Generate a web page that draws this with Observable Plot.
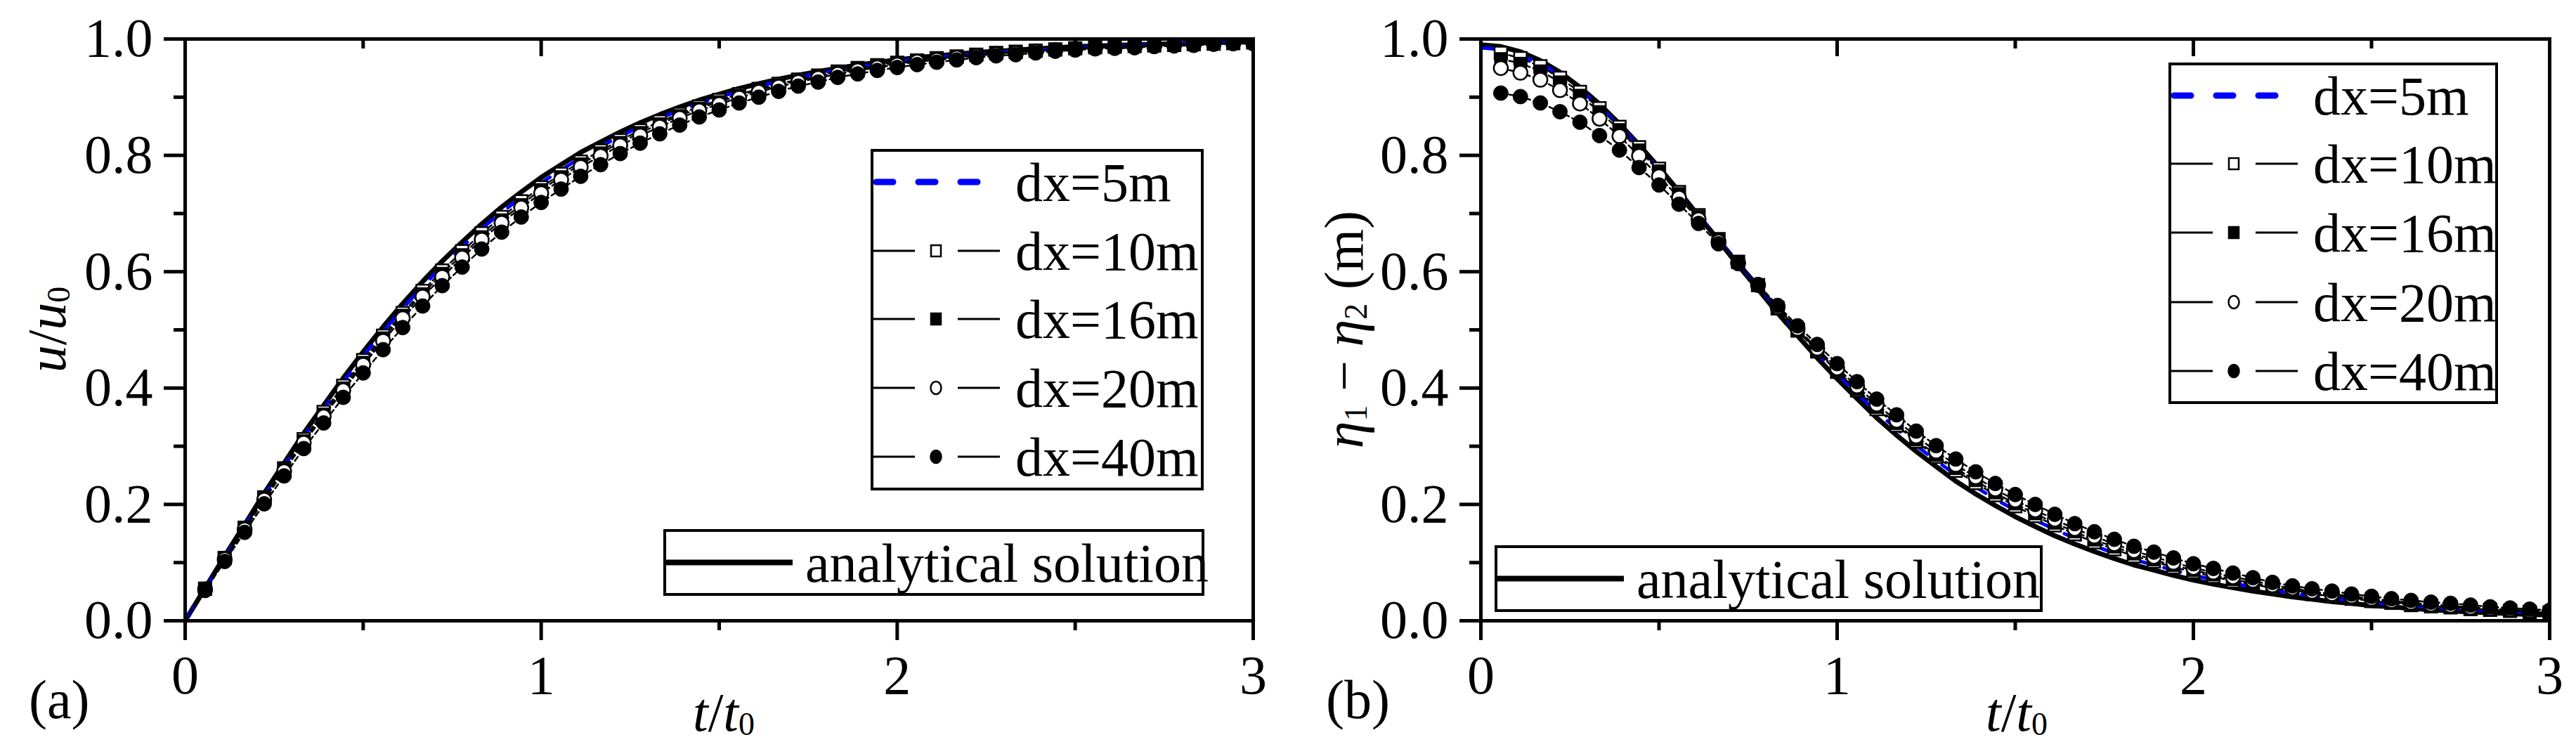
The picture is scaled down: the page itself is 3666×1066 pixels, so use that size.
<!DOCTYPE html>
<html>
<head>
<meta charset="utf-8">
<script src="https://cdn.jsdelivr.net/npm/d3@7"></script>
<script src="https://cdn.jsdelivr.net/npm/@observablehq/plot@0.6"></script>
<style>
  html, body { margin: 0; padding: 0; background: #fff; }
  #wrap { display: flex; width: 3666px; height: 1066px; }
  svg { display: block; }
</style>
</head>
<body>
<div id="wrap"></div>
<script>
// ---------- data ----------
const T = [0, 0.056, 0.111, 0.167, 0.222, 0.278, 0.333, 0.389, 0.444, 0.5, 0.556, 0.611, 0.667, 0.722, 0.778, 0.833, 0.889, 0.944, 1, 1.056, 1.111, 1.167, 1.222, 1.278, 1.333, 1.389, 1.444, 1.5, 1.556, 1.611, 1.667, 1.722, 1.778, 1.833, 1.889, 1.944, 2, 2.056, 2.111, 2.167, 2.222, 2.278, 2.333, 2.389, 2.444, 2.5, 2.556, 2.611, 2.667, 2.722, 2.778, 2.833, 2.889, 2.944, 3];

// panel (a): u/u0
const aAnalytical = [0, 0.056, 0.111, 0.165, 0.219, 0.271, 0.322, 0.370, 0.417, 0.462, 0.505, 0.545, 0.583, 0.618, 0.651, 0.682, 0.711, 0.737, 0.762, 0.784, 0.805, 0.823, 0.840, 0.856, 0.870, 0.883, 0.895, 0.905, 0.915, 0.923, 0.931, 0.938, 0.944, 0.950, 0.955, 0.960, 0.964, 0.968, 0.971, 0.974, 0.977, 0.979, 0.981, 0.983, 0.985, 0.987, 0.988, 0.989, 0.990, 0.991, 0.992, 0.993, 0.994, 0.995, 0.995];
const aDx5 = [0, 0.055, 0.109, 0.162, 0.215, 0.266, 0.316, 0.364, 0.410, 0.455, 0.497, 0.537, 0.574, 0.610, 0.643, 0.674, 0.702, 0.728, 0.753, 0.775, 0.796, 0.815, 0.833, 0.849, 0.864, 0.877, 0.889, 0.900, 0.910, 0.919, 0.927, 0.934, 0.941, 0.947, 0.952, 0.957, 0.961, 0.965, 0.968, 0.972, 0.975, 0.977, 0.979, 0.981, 0.983, 0.985, 0.986, 0.988, 0.989, 0.990, 0.991, 0.992, 0.993, 0.994, 0.994];
const aDx10 = [0, 0.055, 0.108, 0.160, 0.212, 0.262, 0.312, 0.359, 0.404, 0.448, 0.490, 0.529, 0.567, 0.602, 0.635, 0.666, 0.694, 0.721, 0.745, 0.768, 0.789, 0.808, 0.826, 0.843, 0.858, 0.871, 0.884, 0.895, 0.905, 0.914, 0.923, 0.930, 0.937, 0.944, 0.950, 0.955, 0.959, 0.963, 0.967, 0.970, 0.973, 0.976, 0.978, 0.980, 0.982, 0.984, 0.986, 0.987, 0.988, 0.989, 0.990, 0.991, 0.992, 0.993, 0.994];
const aDx16 = [0, 0.054, 0.107, 0.159, 0.210, 0.260, 0.309, 0.355, 0.400, 0.444, 0.486, 0.525, 0.562, 0.597, 0.629, 0.660, 0.689, 0.715, 0.741, 0.763, 0.785, 0.804, 0.822, 0.839, 0.854, 0.868, 0.881, 0.892, 0.903, 0.912, 0.921, 0.928, 0.935, 0.942, 0.948, 0.953, 0.958, 0.962, 0.966, 0.969, 0.973, 0.975, 0.977, 0.980, 0.982, 0.984, 0.985, 0.987, 0.988, 0.989, 0.990, 0.991, 0.993, 0.994, 0.994];
const aDx20 = [0, 0.054, 0.106, 0.157, 0.208, 0.257, 0.306, 0.351, 0.396, 0.440, 0.481, 0.520, 0.557, 0.591, 0.624, 0.655, 0.684, 0.710, 0.735, 0.758, 0.780, 0.799, 0.817, 0.834, 0.849, 0.864, 0.877, 0.888, 0.899, 0.909, 0.918, 0.926, 0.933, 0.940, 0.946, 0.951, 0.956, 0.961, 0.964, 0.968, 0.971, 0.974, 0.976, 0.979, 0.981, 0.983, 0.985, 0.986, 0.987, 0.988, 0.990, 0.991, 0.992, 0.993, 0.993];
const aDx40 = [0, 0.052, 0.102, 0.152, 0.201, 0.249, 0.296, 0.340, 0.384, 0.426, 0.466, 0.504, 0.541, 0.576, 0.608, 0.639, 0.668, 0.694, 0.719, 0.742, 0.764, 0.784, 0.803, 0.821, 0.837, 0.852, 0.866, 0.878, 0.890, 0.900, 0.910, 0.919, 0.926, 0.934, 0.940, 0.946, 0.951, 0.956, 0.960, 0.964, 0.968, 0.971, 0.973, 0.976, 0.979, 0.981, 0.983, 0.984, 0.985, 0.987, 0.988, 0.989, 0.991, 0.992, 0.992];

// panel (b): eta1 - eta2 (m)
const bAnalytical = [0.990, 0.987, 0.978, 0.963, 0.943, 0.917, 0.888, 0.854, 0.818, 0.779, 0.738, 0.696, 0.654, 0.611, 0.570, 0.529, 0.490, 0.452, 0.416, 0.382, 0.349, 0.319, 0.291, 0.265, 0.240, 0.218, 0.198, 0.179, 0.162, 0.146, 0.132, 0.119, 0.107, 0.096, 0.087, 0.078, 0.070, 0.063, 0.057, 0.051, 0.046, 0.041, 0.037, 0.033, 0.030, 0.026, 0.024, 0.021, 0.019, 0.017, 0.015, 0.014, 0.012, 0.011, 0.010];
const bDx5 = [0.985, 0.982, 0.972, 0.958, 0.938, 0.913, 0.884, 0.851, 0.815, 0.777, 0.737, 0.697, 0.656, 0.616, 0.576, 0.536, 0.497, 0.460, 0.424, 0.391, 0.359, 0.330, 0.301, 0.275, 0.251, 0.230, 0.209, 0.190, 0.173, 0.157, 0.142, 0.129, 0.116, 0.105, 0.096, 0.087, 0.078, 0.071, 0.064, 0.058, 0.052, 0.048, 0.042, 0.039, 0.035, 0.032, 0.028, 0.025, 0.023, 0.021, 0.019, 0.017, 0.015, 0.014, 0.013];
const bDx10 = [null, 0.976, 0.967, 0.953, 0.933, 0.909, 0.881, 0.849, 0.814, 0.777, 0.737, 0.697, 0.656, 0.617, 0.577, 0.537, 0.499, 0.463, 0.428, 0.396, 0.364, 0.336, 0.308, 0.282, 0.258, 0.237, 0.216, 0.197, 0.180, 0.164, 0.149, 0.135, 0.123, 0.111, 0.102, 0.092, 0.084, 0.076, 0.068, 0.063, 0.056, 0.051, 0.046, 0.042, 0.038, 0.034, 0.031, 0.027, 0.025, 0.023, 0.020, 0.019, 0.017, 0.015, 0.014];
const bDx16 = [null, 0.966, 0.958, 0.945, 0.926, 0.903, 0.875, 0.844, 0.809, 0.773, 0.734, 0.695, 0.655, 0.616, 0.577, 0.538, 0.500, 0.465, 0.430, 0.398, 0.367, 0.339, 0.311, 0.285, 0.262, 0.241, 0.220, 0.201, 0.184, 0.168, 0.153, 0.139, 0.127, 0.115, 0.105, 0.095, 0.087, 0.079, 0.071, 0.065, 0.058, 0.053, 0.047, 0.044, 0.039, 0.036, 0.032, 0.029, 0.026, 0.024, 0.021, 0.020, 0.017, 0.016, 0.015];
const bDx20 = [null, 0.950, 0.942, 0.930, 0.912, 0.889, 0.863, 0.833, 0.799, 0.764, 0.727, 0.690, 0.652, 0.615, 0.577, 0.539, 0.502, 0.468, 0.434, 0.403, 0.372, 0.344, 0.317, 0.291, 0.268, 0.247, 0.226, 0.207, 0.190, 0.174, 0.158, 0.145, 0.132, 0.120, 0.110, 0.100, 0.091, 0.083, 0.075, 0.069, 0.061, 0.056, 0.050, 0.046, 0.042, 0.038, 0.034, 0.031, 0.028, 0.026, 0.023, 0.021, 0.019, 0.017, 0.016];
const bDx40 = [null, 0.907, 0.901, 0.890, 0.875, 0.857, 0.834, 0.809, 0.779, 0.749, 0.716, 0.683, 0.648, 0.614, 0.578, 0.542, 0.507, 0.475, 0.442, 0.411, 0.381, 0.354, 0.326, 0.301, 0.278, 0.256, 0.236, 0.217, 0.200, 0.183, 0.167, 0.153, 0.140, 0.128, 0.118, 0.108, 0.098, 0.090, 0.082, 0.074, 0.066, 0.060, 0.055, 0.051, 0.046, 0.042, 0.038, 0.035, 0.032, 0.030, 0.027, 0.024, 0.022, 0.020, 0.018];

const seriesLabels = ["dx=5m", "dx=10m", "dx=16m", "dx=20m", "dx=40m"];
const analyticalLabel = "analytical solution";
const panelLabels = ["(a)", "(b)"];
const xTicks = [0, 1, 2, 3];
const xMinorTicks = [0.5, 1.5, 2.5];
const yTicks = [0, 0.2, 0.4, 0.6, 0.8, 1.0];
const yMinorTicks = [0.1, 0.3, 0.5, 0.7, 0.9];

// ---------- drawing ----------
const FONT = "'Liberation Serif', 'Times New Roman', serif";
const FS = 78;
const W = 1833, H = 1066;

function rows(vals) { return T.map((t, i) => ({t, v: vals[i], i})).filter(d => d.v != null); }
function markerRows(vals) { return rows(vals).filter(d => d.i > 0); }

function panel(cfg) {
  const plotH = H - cfg.mt - cfg.mb;
  const dash = "7,5";
  const svg = Plot.plot({
    width: W, height: H,
    marginLeft: cfg.ml, marginRight: cfg.mr, marginTop: cfg.mt, marginBottom: cfg.mb,
    x: {domain: [0, 3]},
    y: {domain: [0, 1]},
    style: {fontFamily: FONT, fontSize: FS + "px", background: "white", color: "black", overflow: "visible"},
    marks: [
      Plot.line(rows(cfg.an), {x: "t", y: "v", stroke: "black", strokeWidth: 7, clip: true}),
      Plot.line(rows(cfg.d5), {x: "t", y: "v", stroke: "#0000ff", strokeWidth: 5, strokeDasharray: "24,26", strokeLinecap: "round", clip: true}),
      Plot.line(rows(cfg.d10), {x: "t", y: "v", stroke: "black", strokeWidth: 2.5, strokeDasharray: dash, clip: true}),
      Plot.line(rows(cfg.d16), {x: "t", y: "v", stroke: "black", strokeWidth: 2.5, strokeDasharray: dash, clip: true}),
      Plot.line(rows(cfg.d20), {x: "t", y: "v", stroke: "black", strokeWidth: 2.5, strokeDasharray: dash, clip: true}),
      Plot.line(rows(cfg.d40), {x: "t", y: "v", stroke: "black", strokeWidth: 2.5, strokeDasharray: dash, clip: true}),
      Plot.dot(markerRows(cfg.d10), {x: "t", y: "v", symbol: "square", r: 10, fill: "white", stroke: "black", strokeWidth: 2.5, clip: true}),
      Plot.dot(markerRows(cfg.d16), {x: "t", y: "v", symbol: "square", r: 10, fill: "black", stroke: "black", strokeWidth: 1, clip: true}),
      Plot.dot(markerRows(cfg.d20), {x: "t", y: "v", symbol: "circle", r: 10, fill: "white", stroke: "black", strokeWidth: 2.5, clip: true}),
      Plot.dot(markerRows(cfg.d40), {x: "t", y: "v", symbol: "circle", r: 10.5, fill: "black", stroke: "black", strokeWidth: 1, clip: true}),
      Plot.frame({stroke: "black", strokeWidth: 5}),
      Plot.axisX({ticks: xTicks, tickSize: 28, tickPadding: 20, tickFormat: d => String(d), strokeWidth: 5, label: null, fontSize: FS}),
      Plot.axisX({ticks: xMinorTicks, tickSize: 14, tickFormat: () => "", strokeWidth: 5, label: null}),
      Plot.axisY({ticks: yTicks, tickSize: 30, tickPadding: 16, tickFormat: d => d.toFixed(1), strokeWidth: 5, label: null, fontSize: FS}),
      Plot.axisY({ticks: yMinorTicks, tickSize: 16, tickFormat: () => "", strokeWidth: 5, label: null}),
      Plot.ruleX([1, 2], {x: d => d, stroke: "black", strokeWidth: 5, insetBottom: plotH - 25}),
      Plot.ruleX(xMinorTicks, {x: d => d, stroke: "black", strokeWidth: 5, insetBottom: plotH - 14})
    ]
  });

  const s = d3.select(svg);
  const ns = s.append("g").attr("font-family", FONT).attr("font-size", FS).attr("fill", "black").attr("text-anchor", "start");

  // x-axis title  t/t0
  const xt = ns.append("text").attr("x", cfg.xTitleX).attr("y", 1040).attr("text-anchor", "middle");
  xt.append("tspan").attr("font-style", "italic").text("t");
  xt.append("tspan").text("/");
  xt.append("tspan").attr("font-style", "italic").text("t");
  xt.append("tspan").attr("font-size", 46).attr("dy", 6).text("0");

  // y-axis title
  const yt = ns.append("text").attr("transform", `translate(${cfg.yTitleX},${(cfg.mt + H - cfg.mb) / 2}) rotate(-90)`).attr("text-anchor", "middle");
  cfg.yTitle(yt);

  // panel letter
  ns.append("text").attr("x", cfg.letterX).attr("y", 1022).attr("text-anchor", "start").text(cfg.letter);

  // legend of numerical runs
  const L = cfg.leg;
  const lg = ns.append("g");
  lg.append("rect").attr("x", L.x0).attr("y", L.y0).attr("width", L.x1 - L.x0).attr("height", L.y1 - L.y0)
    .attr("fill", "white").attr("stroke", "black").attr("stroke-width", 4);
  seriesLabels.forEach((lab, i) => {
    const y = L.rows[i];
    if (i === 0) {
      lg.append("line").attr("x1", L.x0 + 6).attr("x2", L.x0 + 170).attr("y1", y).attr("y2", y)
        .attr("stroke", "#0000ff").attr("stroke-width", 9).attr("stroke-linecap", "round").attr("stroke-dasharray", "24,36");
    } else {
      lg.append("line").attr("x1", L.x0).attr("x2", L.x0 + 61).attr("y1", y).attr("y2", y).attr("stroke", "black").attr("stroke-width", 3);
      lg.append("line").attr("x1", L.x0 + 122).attr("x2", L.x0 + 182).attr("y1", y).attr("y2", y).attr("stroke", "black").attr("stroke-width", 3);
      const cx = L.x0 + 91;
      if (i === 1 || i === 2) {
        lg.append("rect").attr("x", cx - 7).attr("y", y - 8).attr("width", 14).attr("height", 16)
          .attr("fill", i === 1 ? "white" : "black").attr("stroke", "black").attr("stroke-width", 2.5);
      } else {
        lg.append("ellipse").attr("cx", cx).attr("cy", y).attr("rx", 7.5).attr("ry", 9)
          .attr("fill", i === 3 ? "white" : "black").attr("stroke", "black").attr("stroke-width", 2.5);
      }
    }
    lg.append("text").attr("x", L.x0 + 204).attr("y", y + 27).attr("text-anchor", "start").text(lab);
  });

  // legend of analytical solution
  const A = cfg.aleg;
  const ag = ns.append("g");
  ag.append("rect").attr("x", A.x0).attr("y", A.y0).attr("width", A.x1 - A.x0).attr("height", A.y1 - A.y0)
    .attr("fill", "white").attr("stroke", "black").attr("stroke-width", 4);
  const ay = (A.y0 + A.y1) / 2;
  ag.append("line").attr("x1", A.x0).attr("x2", A.x0 + 182).attr("y1", ay).attr("y2", ay).attr("stroke", "black").attr("stroke-width", 8);
  ag.append("text").attr("x", A.x0 + 200).attr("y", ay + 27).attr("text-anchor", "start").text(analyticalLabel);

  return svg;
}

const wrap = document.getElementById("wrap");

wrap.appendChild(panel({
  ml: 263, mr: 50, mt: 55, mb: 183,
  an: aAnalytical, d5: aDx5, d10: aDx10, d16: aDx16, d20: aDx20, d40: aDx40,
  xTitleX: 1030, yTitleX: 93, letterX: 41, letter: panelLabels[0],
  yTitle: t => {
    t.append("tspan").attr("font-style", "italic").text("u");
    t.append("tspan").text("/");
    t.append("tspan").attr("font-style", "italic").text("u");
    t.append("tspan").attr("font-size", 46).attr("dy", 6).text("0");
  },
  leg: {x0: 1241, x1: 1711, y0: 214, y1: 696, rows: [259, 357, 454, 552, 650]},
  aleg: {x0: 946, x1: 1712, y0: 755, y1: 846}
}));

wrap.appendChild(panel({
  ml: 274, mr: 38, mt: 55, mb: 183,
  an: bAnalytical, d5: bDx5, d10: bDx10, d16: bDx16, d20: bDx20, d40: bDx40,
  xTitleX: 1037, yTitleX: 106, letterX: 54, letter: panelLabels[1],
  yTitle: t => {
    t.append("tspan").attr("font-style", "italic").text("η");
    t.append("tspan").attr("font-size", 46).attr("dy", 6).text("1");
    t.append("tspan").attr("dy", -6).text(" − ");
    t.append("tspan").attr("font-style", "italic").text("η");
    t.append("tspan").attr("font-size", 46).attr("dy", 6).text("2");
    t.append("tspan").attr("dy", -6).text(" (m)");
  },
  leg: {x0: 1255, x1: 1720, y0: 91, y1: 573, rows: [136, 233, 331, 430, 528]},
  aleg: {x0: 296, x1: 1072, y0: 778, y1: 869}
}));
</script>
</body>
</html>
